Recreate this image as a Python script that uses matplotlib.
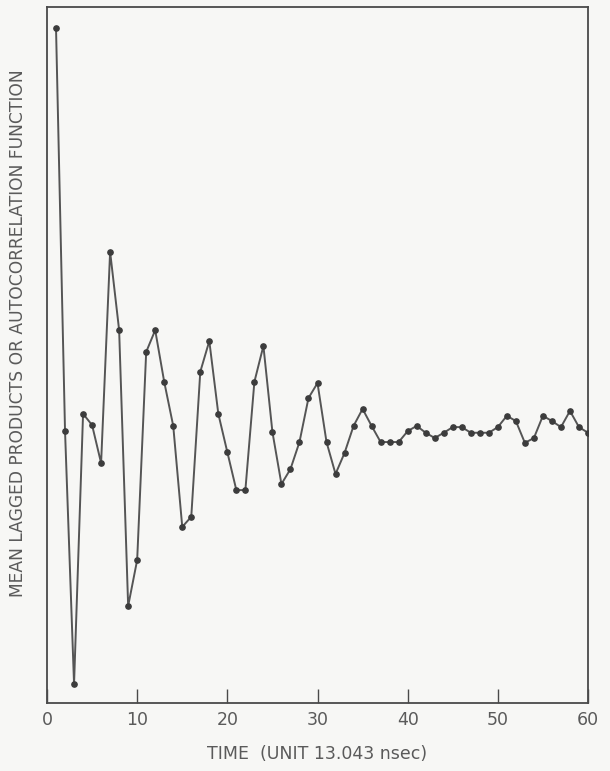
import matplotlib
matplotlib.use("Agg")
import matplotlib.pyplot as plt

# Lag index (time units of 13.043 nsec)
lags = list(range(1, 61))
# Mean lagged products / autocorrelation (normalized)
acf = [1.000, 0.002, -0.624, 0.045, 0.017, -0.077, 0.446, 0.252, -0.431, -0.317,
       0.198, 0.252, 0.124, 0.015, -0.235, -0.210, 0.149, 0.225, 0.045, -0.050,
       -0.144, -0.144, 0.124, 0.213, 0.000, -0.129, -0.092, -0.025, 0.084, 0.121,
       -0.025, -0.104, -0.052, 0.015, 0.057, 0.015, -0.025, -0.025, -0.025, 0.002,
       0.015, -0.002, -0.015, -0.002, 0.012, 0.012, -0.002, -0.002, -0.002, 0.012,
       0.040, 0.027, -0.027, -0.015, 0.040, 0.027, 0.012, 0.052, 0.012, -0.002]
xticks = [0, 10, 20, 30, 40, 50, 60]

ink = "#4a4a4a"
txt = "#5a5a5a"
bg = "#f7f7f5"

fig = plt.figure(figsize=(6.1, 7.71), dpi=100, facecolor=bg)
ax = fig.add_axes([47/610, 1 - 703/771, (588 - 47)/610, (703 - 7)/771])
ax.set_facecolor(bg)

ax.plot(lags, acf, color="#555555", lw=1.4, marker="o", ms=3.8,
        mfc="#3c3c3c", mec="#3c3c3c", zorder=3)

ax.set_xlim(0, 60)
ax.set_ylim(-0.671, 1.052)
ax.set_xticks(xticks)
ax.set_xticklabels([str(t) for t in xticks], fontsize=12.5, color=txt,
                   family="DejaVu Sans")
ax.set_yticks([])
ax.tick_params(axis="x", direction="in", length=10, width=1.0, color=ink, pad=6)

for s in ax.spines.values():
    s.set_color(ink)
    s.set_linewidth(1.3)

ax.set_xlabel("TIME  (UNIT 13.043 nsec)", fontsize=12.5, color=txt, labelpad=11)
fig.text(18/610, 1 - 333/771, "MEAN LAGGED PRODUCTS OR AUTOCORRELATION FUNCTION",
         rotation=90, ha="center", va="center", fontsize=12.3, color=txt)

fig.savefig("out.png", dpi=100, facecolor=bg)
